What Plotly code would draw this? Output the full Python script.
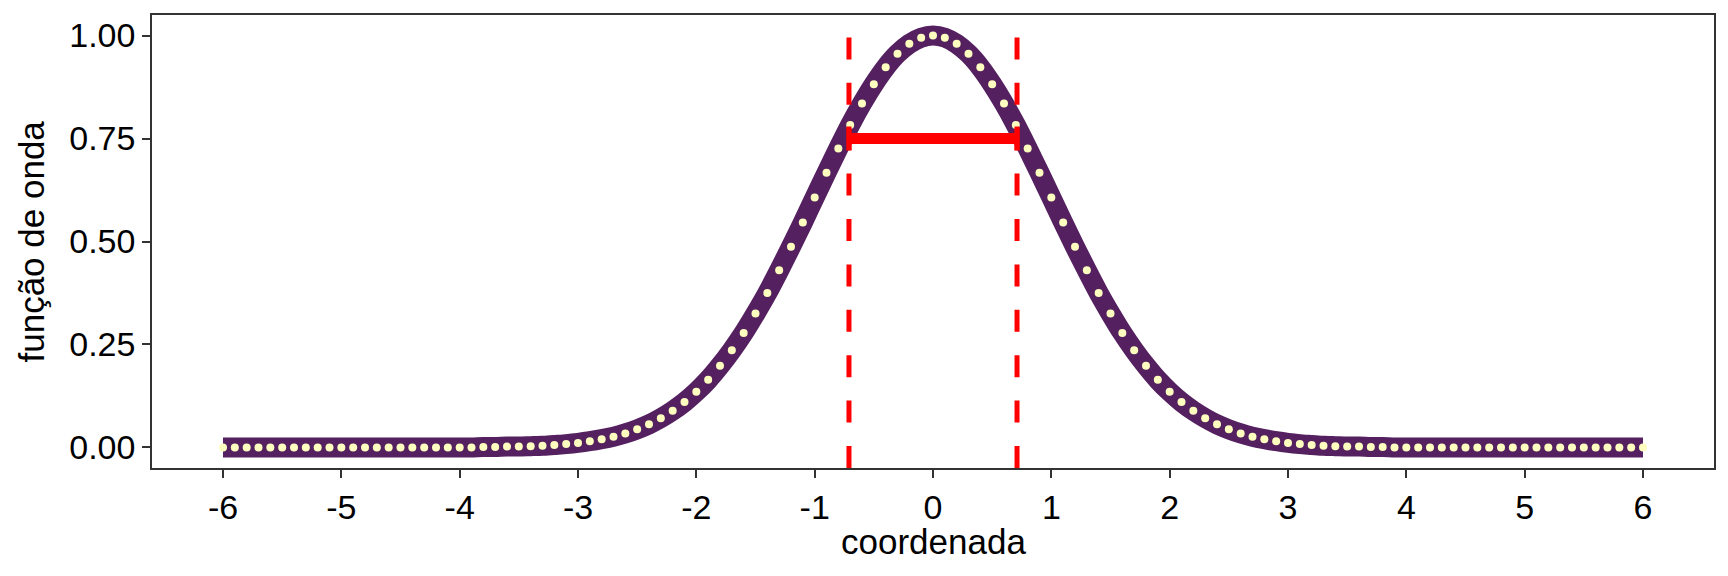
import plotly.graph_objects as go

# ---- data ----
x_coord = [-6.0, -5.9, -5.8, -5.7, -5.6, -5.5, -5.4, -5.3, -5.2, -5.1,
           -5.0, -4.9, -4.8, -4.7, -4.6, -4.5, -4.4, -4.3, -4.2, -4.1,
           -4.0, -3.9, -3.8, -3.7, -3.6, -3.5, -3.4, -3.3, -3.2, -3.1,
           -3.0, -2.9, -2.8, -2.7, -2.6, -2.5, -2.4, -2.3, -2.2, -2.1,
           -2.0, -1.9, -1.8, -1.7, -1.6, -1.5, -1.4, -1.3, -1.2, -1.1,
           -1.0, -0.9, -0.8, -0.7, -0.6, -0.5, -0.4, -0.3, -0.2, -0.1,
           0.0,
           0.1, 0.2, 0.3, 0.4, 0.5, 0.6, 0.7, 0.8, 0.9, 1.0,
           1.1, 1.2, 1.3, 1.4, 1.5, 1.6, 1.7, 1.8, 1.9, 2.0,
           2.1, 2.2, 2.3, 2.4, 2.5, 2.6, 2.7, 2.8, 2.9, 3.0,
           3.1, 3.2, 3.3, 3.4, 3.5, 3.6, 3.7, 3.8, 3.9, 4.0,
           4.1, 4.2, 4.3, 4.4, 4.5, 4.6, 4.7, 4.8, 4.9, 5.0,
           5.1, 5.2, 5.3, 5.4, 5.5, 5.6, 5.7, 5.8, 5.9, 6.0]

psi = [0.000, 0.000, 0.000, 0.000, 0.000, 0.000, 0.000, 0.000, 0.000, 0.000,
       0.000, 0.000, 0.000, 0.000, 0.000, 0.000, 0.000, 0.000, 0.000, 0.000,
       0.000, 0.000, 0.001, 0.001, 0.002, 0.002, 0.003, 0.004, 0.006, 0.008,
       0.011, 0.015, 0.020, 0.026, 0.034, 0.044, 0.056, 0.071, 0.089, 0.110,
       0.135, 0.164, 0.198, 0.236, 0.278, 0.325, 0.375, 0.430, 0.487, 0.546,
       0.607, 0.667, 0.726, 0.783, 0.835, 0.882, 0.923, 0.956, 0.980, 0.995,
       1.000,
       0.995, 0.980, 0.956, 0.923, 0.882, 0.835, 0.783, 0.726, 0.667, 0.607,
       0.546, 0.487, 0.430, 0.375, 0.325, 0.278, 0.236, 0.198, 0.164, 0.135,
       0.110, 0.089, 0.071, 0.056, 0.044, 0.034, 0.026, 0.020, 0.015, 0.011,
       0.008, 0.006, 0.004, 0.003, 0.002, 0.002, 0.001, 0.001, 0.000, 0.000,
       0.000, 0.000, 0.000, 0.000, 0.000, 0.000, 0.000, 0.000, 0.000, 0.000,
       0.000, 0.000, 0.000, 0.000, 0.000, 0.000, 0.000, 0.000, 0.000, 0.000]

width_x = [-0.71, 0.71]     # dashed vertical lines / width interval
width_level = 0.75          # height of the width bar

x_ticks = [-6, -5, -4, -3, -2, -1, 0, 1, 2, 3, 4, 5, 6]
x_ticklabels = ["-6", "-5", "-4", "-3", "-2", "-1", "0", "1", "2", "3", "4", "5", "6"]
y_ticks = [0.0, 0.25, 0.5, 0.75, 1.0]
y_ticklabels = ["0.00", "0.25", "0.50", "0.75", "1.00"]

x_title = "coordenada"
y_title = "função de onda"

PURPLE = "#54205F"
DOT = "#FCFDBF"
RED = "#FF0000"
FONT = "Liberation Sans, Arial, Helvetica, sans-serif"

fig = go.Figure()

# thick purple curve
fig.add_trace(go.Scatter(x=x_coord, y=psi, mode="lines",
                         line=dict(color=PURPLE, width=20, simplify=False,
                                   shape="spline", smoothing=0.6),
                         hoverinfo="skip", showlegend=False))
# light dots on top
fig.add_trace(go.Scatter(x=x_coord, y=psi, mode="markers",
                         marker=dict(color=DOT, size=8, line=dict(width=0)),
                         showlegend=False))
# width bar
fig.add_trace(go.Scatter(x=width_x, y=[width_level, width_level], mode="lines",
                         line=dict(color=RED, width=11),
                         showlegend=False))
# end caps of the width bar
half = (width_x[1] - width_x[0]) / 2
fig.add_trace(go.Scatter(x=[(width_x[0] + width_x[1]) / 2], y=[width_level],
                         mode="markers", marker=dict(size=1, color="rgba(0,0,0,0)"),
                         error_x=dict(type="data", array=[half], symmetric=True,
                                      color=RED, thickness=5, width=12),
                         showlegend=False))

for xv in width_x:
    fig.add_shape(type="line", xref="x", yref="paper", x0=xv, x1=xv, y0=0, y1=0.955,
                  line=dict(color=RED, width=5, dash="22px,23.4px"), layer="above")

axis_common = dict(showline=True, linecolor="#333333", linewidth=1.5, mirror=True,
                   ticks="outside", ticklen=8, tickwidth=1.5, tickcolor="#333333",
                   showgrid=False, zeroline=False, automargin=False,
                   tickfont=dict(family=FONT, size=34, color="black"))

fig.update_xaxes(range=[-6.6, 6.6], tickvals=x_ticks, ticktext=x_ticklabels,
                 **axis_common)
fig.update_yaxes(range=[-0.05, 1.05], tickvals=y_ticks, ticktext=y_ticklabels,
                 **axis_common)

title_font = dict(family=FONT, size=35, color="black")
fig.add_annotation(text=x_title, xref="paper", yref="paper", x=0.5, y=0,
                   xanchor="center", yanchor="middle", yshift=-73,
                   showarrow=False, font=title_font)
fig.add_annotation(text=y_title, xref="paper", yref="paper", x=0, y=0.5,
                   xanchor="center", yanchor="middle", xshift=-121, textangle=-90,
                   showarrow=False, font=title_font)

# the page body adds an 8 px offset, so the figure is 16 px smaller than the window
fig.update_layout(width=1712, height=560,
                  margin=dict(l=144, r=6, t=7, b=100),
                  paper_bgcolor="white", plot_bgcolor="white",
                  showlegend=False)

fig.write_html("out.html")
